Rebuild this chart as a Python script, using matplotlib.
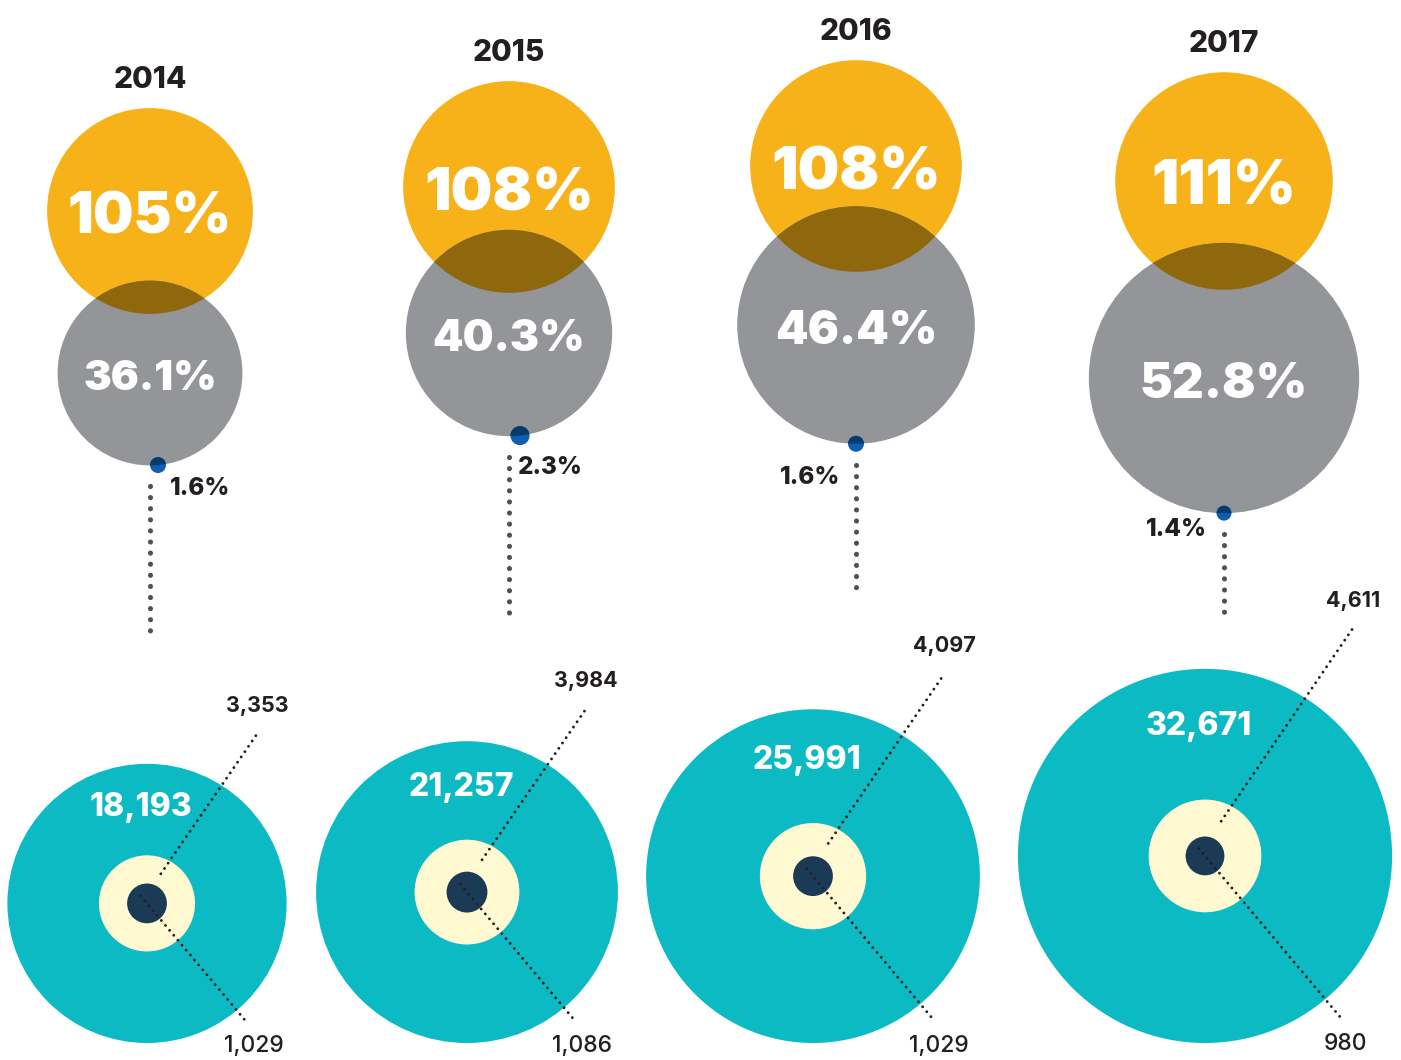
import numpy as np
import matplotlib
matplotlib.use("Agg")
import matplotlib.pyplot as plt
from matplotlib.patches import Circle

# ---------------- data ----------------
years = ["2014", "2015", "2016", "2017"]
orange_pct = [105, 108, 108, 111]
gray_pct = [36.1, 40.3, 46.4, 52.8]
dot_pct = [1.6, 2.3, 1.6, 1.4]
teal_vals = [18193, 21257, 25991, 32671]
cream_vals = [3353, 3984, 4097, 4611]
navy_vals = [1029, 1086, 1029, 980]

# ---------------- layout (pixel canvas) ----------------
W, H = 1401, 1060
top_x = [150, 509, 856, 1224]
bot_x = [147, 467, 813, 1205]
orange_y = [211, 187, 166, 181]
gray_y = [373, 333, 325, 378]
dot_dx = [8, 11, 0, 0]
stem_end = [637, 616, 592, 622]
dot_lab_dx = [12, -2, -16, -17]
dot_lab_dy = [21, 30, 31, 14]
dot_lab_ha = ["left", "left", "right", "right"]
teal_bottom = 1043
bottom_label_max_y = 1044

# ---------------- scales ----------------
def r_orange(v): return 0.98 * v
def r_gray(v): return 2.56 * v
def r_dot(v): return 6.3 * np.sqrt(v)
def r_teal(v): return 1.035 * np.sqrt(v)
def r_cream(v): return 0.83 * np.sqrt(v)
def r_navy(v): return 0.62 * np.sqrt(v)

# ---------------- style ----------------
C_ORANGE = "#F8B219"
C_GRAY = "#939598"
C_OVER = "#8F680E"
C_TEAL = "#0BBAC3"
C_CREAM = "#FEF9D0"
C_NAVY = "#1B3A56"
C_BLUE = "#0D5FAF"
C_BLUE_D = "#083A6B"
C_TXT = "#231F20"
C_STEM = "#505153"
FAM = ["Inter", "Lato", "DejaVu Sans"]

fig = plt.figure(figsize=(W / 100, H / 100), dpi=100)
ax = fig.add_axes([0, 0, 1, 1])
ax.set_xlim(0, W)
ax.set_ylim(H, 0)
ax.axis("off")


def ctext(x, y, s, pt, ha="center", **kw):
    px = pt * 100 / 72
    ax.text(x, y + 0.36 * px, s, fontsize=pt, ha=ha, va="baseline",
            family=FAM, zorder=10, **kw)


def circ(x, y, r, color, z):
    c = Circle((x, y), r, facecolor=color, edgecolor="none", zorder=z)
    ax.add_patch(c)
    return c


for i in range(len(years)):
    # ---- top group ----
    tx = top_x[i]
    ro = r_orange(orange_pct[i])
    rg = r_gray(gray_pct[i])
    oy, gy = orange_y[i], gray_y[i]
    circ(tx, oy, ro, C_ORANGE, 1)
    gpatch = circ(tx, gy, rg, C_GRAY, 2)
    ov = circ(tx, oy, ro, C_OVER, 3)
    ov.set_clip_path(gpatch)

    ctext(tx, oy - ro - 31, years[i], 21.5, color=C_TXT, weight=800)
    ctext(tx, oy + 2, f"{orange_pct[i]}%", 0.4 * ro, color="white", weight=900)
    ctext(tx, gy + 2, f"{gray_pct[i]:.1f}%", 18 + 0.13 * rg, color="white",
          weight=900)

    # blue dot sitting on the bottom edge of the gray circle
    dx = dot_dx[i]
    dxp = tx + dx
    dyp = gy + np.sqrt(rg ** 2 - dx ** 2)
    rd = r_dot(dot_pct[i])
    circ(dxp, dyp, rd, C_BLUE, 4)
    dd = circ(dxp, dyp, rd, C_BLUE_D, 5)
    dd.set_clip_path(gpatch)
    ctext(dxp + dot_lab_dx[i], dyp + dot_lab_dy[i], f"{dot_pct[i]:.1f}%", 17.5,
          ha=dot_lab_ha[i], color=C_TXT, weight=800)

    # vertical dotted stem
    ax.plot([tx, tx], [dyp + 21, stem_end[i]], color=C_STEM, lw=3.7,
            linestyle=(0, (0.01, 2.15)), dash_capstyle="round", zorder=2)

    # ---- bottom group ----
    bx = bot_x[i]
    rt = r_teal(teal_vals[i])
    rc = r_cream(cream_vals[i])
    rn = r_navy(navy_vals[i])
    by = teal_bottom - rt
    circ(bx, by, rt, C_TEAL, 1)
    circ(bx, by, rc, C_CREAM, 2)
    circ(bx, by, rn, C_NAVY, 3)
    ctext(bx - 6, by - 0.71 * rt, f"{teal_vals[i]:,}", 23, color="white",
          weight=800)

    # upper leader (cream value)
    a0, a1 = np.radians(65), np.radians(57)
    sx, sy = bx + 0.68 * rc * np.cos(a0), by - 0.68 * rc * np.sin(a0)
    ex, ey = bx + 1.45 * rt * np.cos(a1), by - 1.45 * rt * np.sin(a1)
    ax.plot([sx, ex], [sy, ey], color=C_TXT, lw=2.1,
            linestyle=(0, (0.01, 2.2)), dash_capstyle="round", zorder=6)
    ctext(ex, ey - 29, f"{cream_vals[i]:,}", 15.5, color=C_TXT, weight=700)

    # lower leader (navy value)
    a2 = np.radians(50)
    ux, uy = np.cos(a2), np.sin(a2)
    sx, sy = bx - 0.5 * rn * ux, by - 0.5 * rn * uy
    ex, ey = bx + 1.12 * rt * ux, by + 1.12 * rt * uy
    ax.plot([sx, ex], [sy, ey], color=C_TXT, lw=2.1,
            linestyle=(0, (0.01, 2.2)), dash_capstyle="round", zorder=6)
    ctext(ex + 6, min(ey + 25, bottom_label_max_y), f"{navy_vals[i]:,}", 16.5,
          color=C_TXT, weight=500)

fig.savefig("out.png", dpi=100)
